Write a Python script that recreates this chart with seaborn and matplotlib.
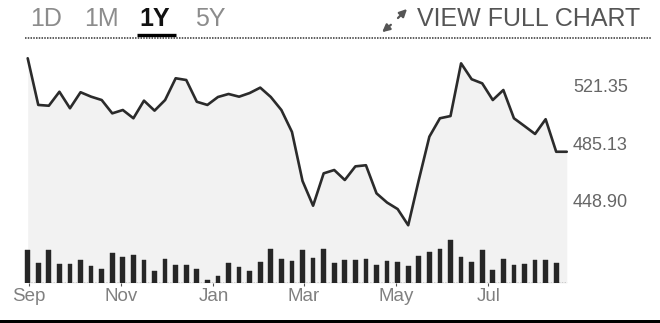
import matplotlib
matplotlib.use("Agg")
import matplotlib.pyplot as plt
import matplotlib.dates as mdates
from matplotlib.lines import Line2D
from matplotlib.patches import Rectangle, FancyArrowPatch
import numpy as np
import pandas as pd
import seaborn as sns

# ---------------- data ----------------
weeks = pd.date_range("2019-08-31", periods=52, freq="7D")
price = [538.7, 509.3, 508.8, 517.6, 507.2, 517.3, 514.5, 512.4, 504.0, 506.1,
         500.9, 512.0, 505.7, 512.4, 526.1, 525.0, 511.3, 509.3, 514.3, 516.2,
         514.5, 516.8, 520.2, 514.3, 506.1, 492.3, 461.4, 445.8, 466.2, 468.3,
         462.0, 470.6, 471.3, 453.6, 447.8, 443.7, 433.5, 462.0, 489.3, 500.9,
         502.3, 535.5, 525.5, 522.9, 512.4, 518.7, 500.9, 496.0, 491.0, 500.3,
         479.8, 479.8]
volume = [32.7, 20.0, 32.7, 19.3, 19.3, 23.3, 17.3, 14.0, 30.0, 26.0,
          28.3, 22.7, 11.7, 24.0, 18.3, 18.3, 14.0, 2.7, 7.3, 20.0,
          16.0, 12.3, 20.7, 34.3, 24.0, 22.3, 32.7, 25.0, 34.3, 20.0,
          22.7, 23.3, 24.0, 18.3, 22.3, 20.7, 16.7, 27.3, 30.7, 34.0,
          42.7, 26.0, 20.7, 33.3, 12.7, 24.0, 18.3, 19.3, 23.3, 23.3, 20.0]
price_ticks = [448.90, 485.13, 521.35]
month_ticks = ["2019-09-01", "2019-11-01", "2020-01-01", "2020-03-01",
               "2020-05-01", "2020-07-01"]
month_labels = ["Sep", "Nov", "Jan", "Mar", "May", "Jul"]
range_buttons = ["1D", "1M", "1Y", "5Y"]
active_button = "1Y"
link_text = "VIEW FULL CHART"

# ---------------- style ----------------
sns.set_theme(style="white")
plt.rcParams["font.family"] = ["Liberation Sans", "DejaVu Sans"]

W, H = 660, 323
fig = plt.figure(figsize=(W / 100, H / 100), dpi=100)
fig.patch.set_facecolor("white")

xnum = mdates.date2num(weeks)
px_per_day = 10.57 / 7.0
x_first_px = 27.7
right_px = 568
xlim = (xnum[0] - x_first_px / px_per_day, xnum[0] + (right_px - x_first_px) / px_per_day)

# price panel: from y=45px to y=283px
top_px, base_px = 45, 283
ref_px, ref_val, per_px = 143.3, 485.13, 0.63
ylo = ref_val - (base_px - ref_px) * per_px
yhi = ref_val + (ref_px - top_px) * per_px

ax = fig.add_axes([0, (H - base_px) / H, right_px / W, (base_px - top_px) / H])
ax.fill_between(xnum, price, ylo, color="#f2f2f2", lw=0, zorder=0)
sns.lineplot(x=xnum, y=price, ax=ax, color="#2b2b2b", linewidth=1.9, zorder=3)
ax.set_xlim(xlim)
ax.set_ylim(ylo, yhi)
ax.set_xticks([])
ax.yaxis.tick_right()
ax.set_yticks(price_ticks)
ax.set_yticklabels([f"{v:.2f}" for v in price_ticks])
ax.tick_params(axis="y", length=0, pad=3.6, labelsize=13, labelcolor="#666666")
ax.set_xlabel("")
ax.set_ylabel("")
for s in ax.spines.values():
    s.set_visible(False)

# volume panel
axv = fig.add_axes([0, (H - base_px) / H, right_px / W, 50 / H])
axv.patch.set_alpha(0)
sns.barplot(x=xnum[:len(volume)], y=volume, ax=axv, native_scale=True,
            width=0.45, color="#262626", saturation=1, errorbar=None,
            edgecolor="#262626", linewidth=0.3)
axv.set_xlim(xlim)
axv.set_ylim(0, 50)
axv.set_yticks([])
axv.set_xticks(mdates.date2num(pd.to_datetime(month_ticks)))
axv.set_xticklabels(month_labels)
axv.tick_params(axis="x", bottom=True, length=2.2, width=0.8, color="#555555",
                pad=1.5, labelsize=13.5, labelcolor="#808080")
axv.hlines(0, xnum[0], xnum[-1], colors="#333333", linestyles=(0, (1, 1)), lw=1.0)
axv.set_xlabel("")
axv.set_ylabel("")
for s in axv.spines.values():
    s.set_visible(False)

# ---------------- header ----------------
def fx(px):
    return px / W

def fy(py):
    return 1 - py / H

btn_x = [30, 84, 139, 195]
for lab, x in zip(range_buttons, btn_x):
    active = lab == active_button
    fig.text(fx(x), fy(19), lab, fontsize=18, ha="left", va="center",
             color="#111111" if active else "#8c8c8c",
             fontweight="bold" if active else "normal")
fig.add_artist(Line2D([fx(137), fx(176)], [fy(35), fy(35)], lw=2.4,
                      color="black", solid_capstyle="butt"))
fig.add_artist(Line2D([fx(25), fx(652)], [fy(37.5), fy(37.5)], lw=1.1,
                      color="#333333", ls=(0, (1, 0.8))))

# expand icon
fig.add_artist(FancyArrowPatch((fx(396), fy(20)), (fx(409), fy(7)),
                               transform=fig.transFigure, arrowstyle="-|>",
                               mutation_scale=11, lw=1.6, color="#555555"))
fig.add_artist(FancyArrowPatch((fx(393), fy(23)), (fx(380), fy(34)),
                               transform=fig.transFigure, arrowstyle="-|>",
                               mutation_scale=11, lw=1.6, color="#555555"))
fig.text(fx(417), fy(19), link_text, fontsize=18, ha="left", va="center",
         color="#555555")

# bottom border
fig.add_artist(Rectangle((0, 0), 1, 3 / H, transform=fig.transFigure,
                         color="black", lw=0))

fig.savefig("out.png", dpi=100)
